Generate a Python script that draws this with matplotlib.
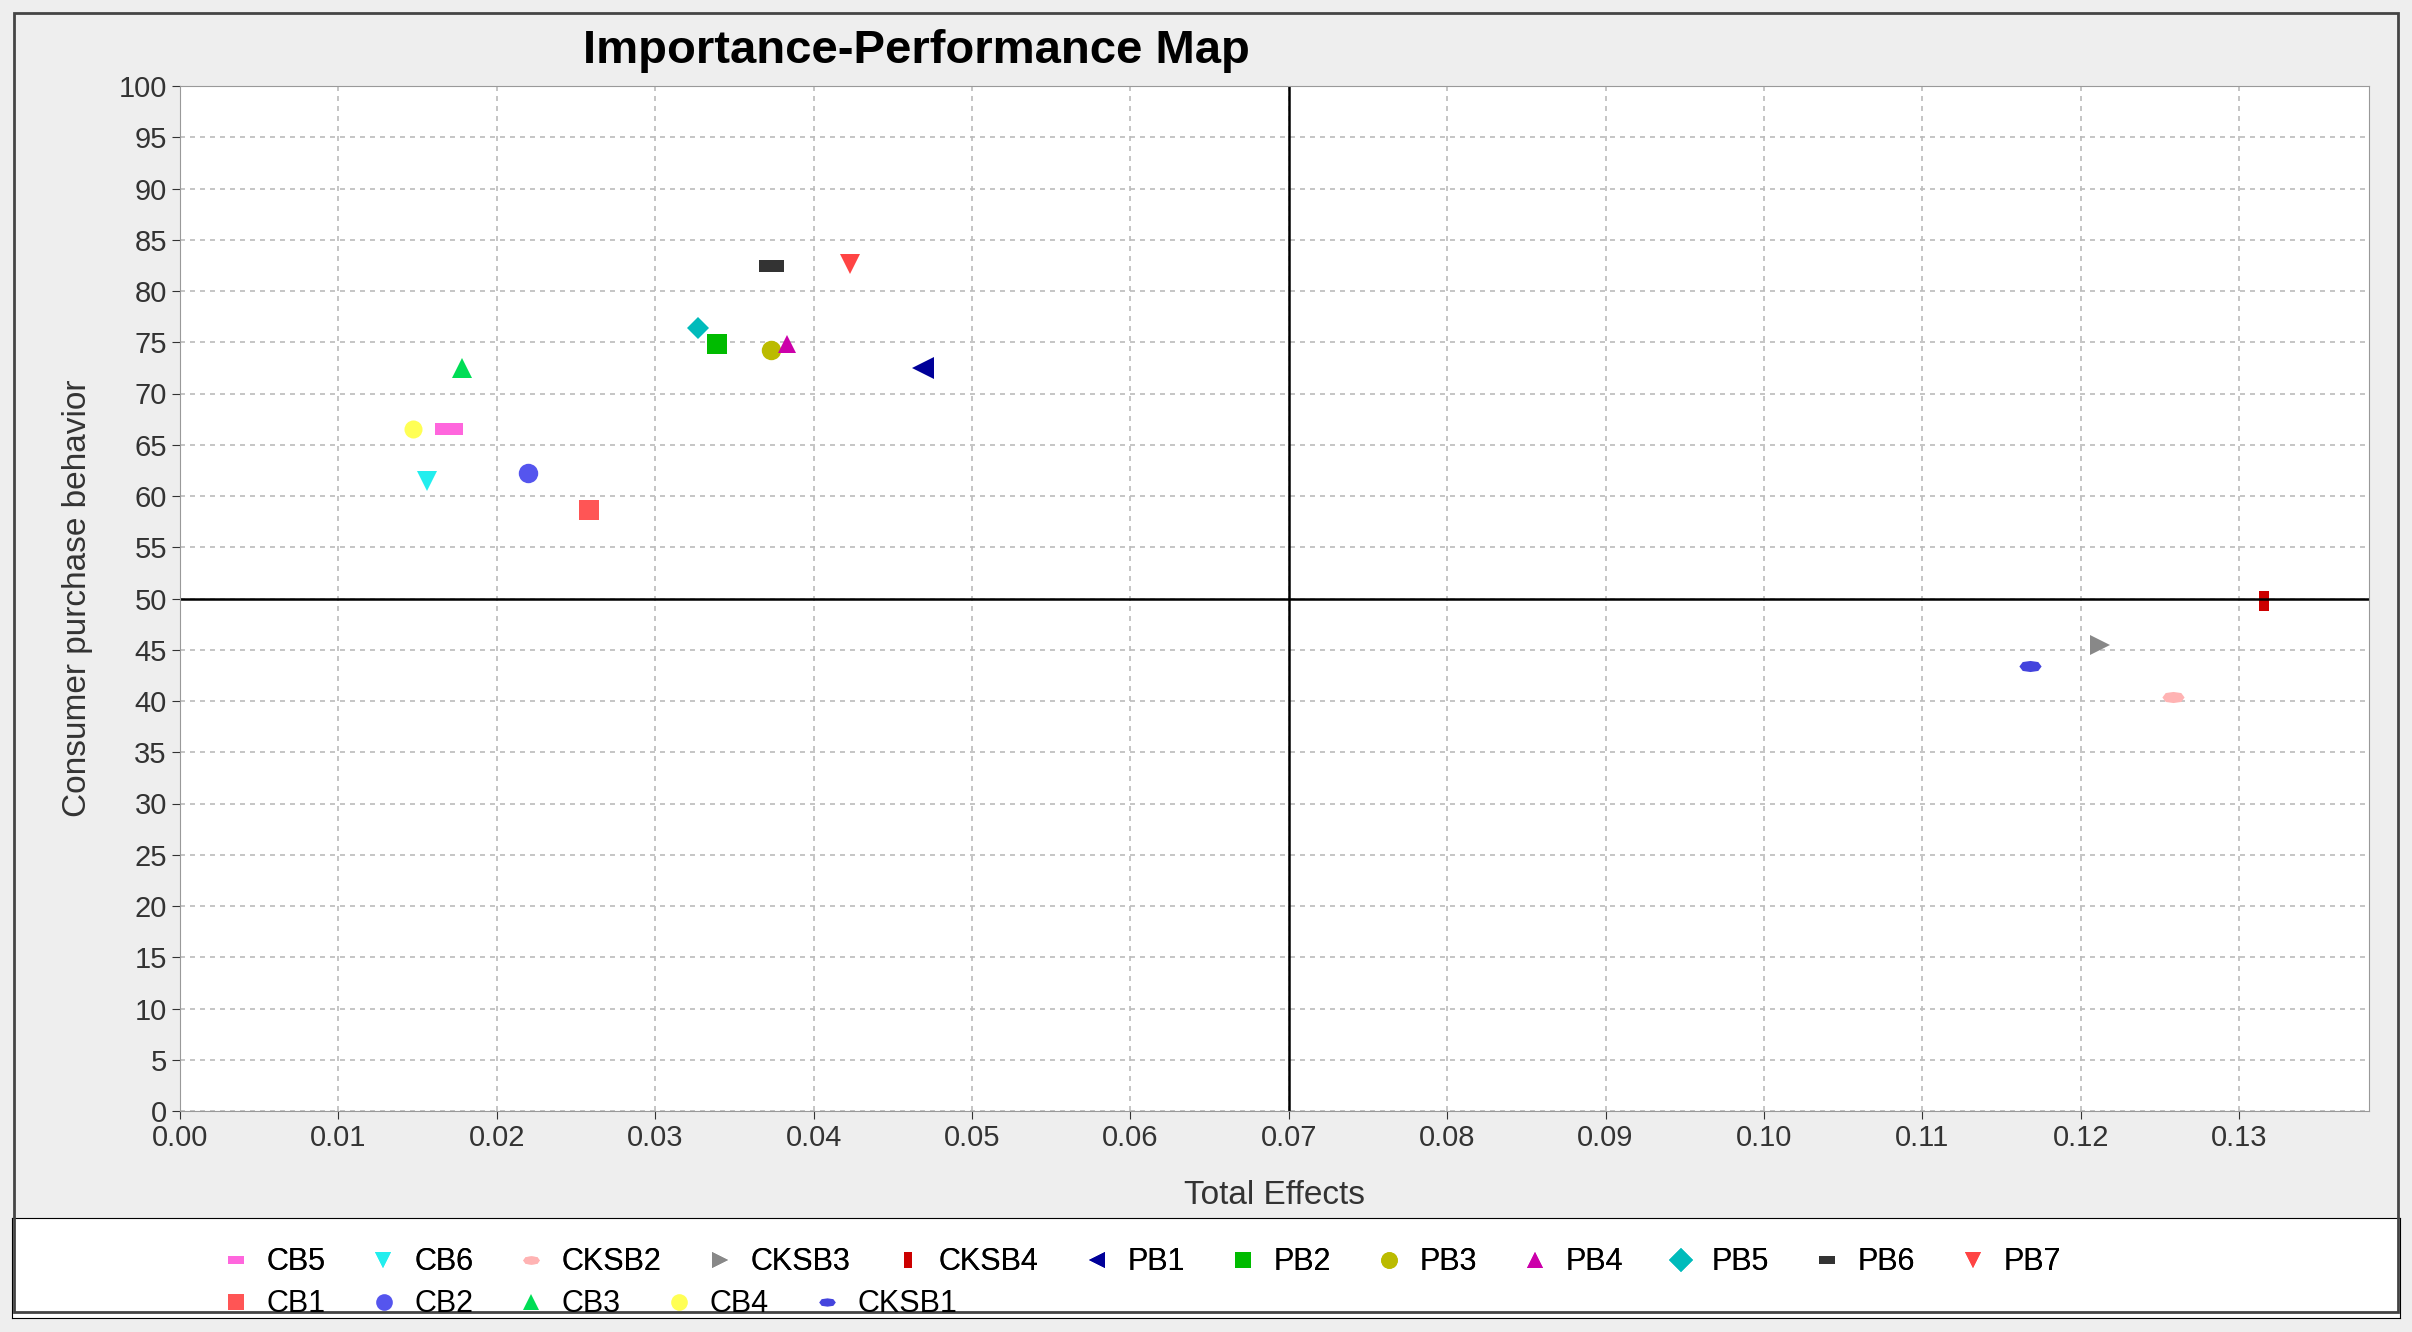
import matplotlib.pyplot as plt
from matplotlib.lines import Line2D

labels = ["CB5", "CB6", "CKSB2", "CKSB3", "CKSB4", "PB1", "PB2", "PB3", "PB4",
          "PB5", "PB6", "PB7", "CB1", "CB2", "CB3", "CB4", "CKSB1"]
total_effects = [0.0170, 0.0156, 0.1258, 0.1212, 0.1316, 0.0469, 0.0339, 0.0373, 0.0383,
                 0.0327, 0.0373, 0.0423, 0.0258, 0.0220, 0.0178, 0.0147, 0.1168]
performance = [66.5, 61.5, 40.4, 45.5, 49.8, 72.5, 74.8, 74.2, 74.8,
               76.4, 82.4, 82.6, 58.6, 62.2, 72.5, 66.5, 43.4]

HRECT = [(-1, -0.45), (1, -0.45), (1, 0.45), (-1, 0.45)]
VRECT = [(-0.5, -1), (0.5, -1), (0.5, 1), (-0.5, 1)]
HOVAL = [(-1, 0), (-0.7, 0.4), (0, 0.5), (0.7, 0.4), (1, 0), (0.7, -0.4), (0, -0.5), (-0.7, -0.4)]

STYLES = {
    "CB5": ("#ff66dd", HRECT, 20),
    "CB6": ("#22eeee", "v", 14),
    "CKSB2": ("#ffb3b3", HOVAL, 16),
    "CKSB3": ("#888888", ">", 14),
    "CKSB4": ("#cc0000", VRECT, 14),
    "PB1": ("#000099", "<", 16),
    "PB2": ("#00bb00", "s", 15),
    "PB3": ("#bbbb00", "o", 14),
    "PB4": ("#cc00aa", "^", 13),
    "PB5": ("#00bbbb", "D", 11),
    "PB6": ("#333333", HRECT, 18),
    "PB7": ("#ff4444", "v", 15),
    "CB1": ("#ff5555", "s", 15),
    "CB2": ("#5555ee", "o", 14),
    "CB3": ("#00dd55", "^", 14),
    "CB4": ("#ffff55", "o", 13),
    "CKSB1": ("#4444dd", HOVAL, 16),
}

plt.rcParams["font.family"] = ["Liberation Sans", "DejaVu Sans"]

fig = plt.figure(figsize=(24.12, 13.32), dpi=100, facecolor="#eeeeee")
ax = fig.add_axes([180 / 2412, 1 - 1111 / 1332, 2189 / 2412, 1025 / 1332])
ax.set_facecolor("white")

for name, x, y in zip(labels, total_effects, performance):
    color, marker, size = STYLES[name]
    ax.plot(x, y, linestyle="none", marker=marker, color=color, markersize=size,
            markeredgewidth=0, label=name)

ax.axvline(0.07, color="black", linewidth=1.8)
ax.axhline(50, color="black", linewidth=1.8)

ax.set_xlim(0, 0.1382)
ax.set_ylim(0, 100)
ax.set_xticks([i / 100 for i in range(14)])
ax.set_xticklabels([f"{i / 100:.2f}" for i in range(14)])
ax.set_yticks(range(0, 101, 5))
ax.grid(True, color="#bbbbbb", linestyle=(0, (3, 3)), linewidth=1.2)
ax.tick_params(labelsize=21, colors="#333333", length=6)
for side in ax.spines.values():
    side.set_color("#999999")
ax.set_xlabel("Total Effects", fontsize=24, color="#333333", labelpad=20)
ax.set_ylabel("Consumer purchase behavior", fontsize=24, color="#333333", labelpad=18)
fig.text(0.38, 0.962, "Importance-Performance Map", fontsize=34, fontweight="bold",
         ha="center", va="center")

# legend strip at the bottom
leg_ax = fig.add_axes([12 / 2412, 1 - 1318 / 1332, 2388 / 2412, 100 / 1332])
leg_ax.set_facecolor("white")
leg_ax.set_xticks([])
leg_ax.set_yticks([])


def make_handle(name):
    color, marker, _ = STYLES[name]
    return Line2D([], [], linestyle="none", marker=marker, color=color,
                  markersize=12, markeredgewidth=0)


row1 = labels[:12]
row2 = labels[12:]
leg1 = fig.legend([make_handle(n) for n in row1], row1, loc="upper left",
                  bbox_to_anchor=(190 / 2412, 1 - 1220 / 1332), ncol=12, frameon=False,
                  fontsize=22, handletextpad=0.4, columnspacing=1.3, handlelength=1.2)
fig.add_artist(leg1)
fig.legend([make_handle(n) for n in row2], row2, loc="upper left",
           bbox_to_anchor=(190 / 2412, 1 - 1262 / 1332), ncol=5, frameon=False,
           fontsize=22, handletextpad=0.4, columnspacing=1.3, handlelength=1.2)

fig.add_artist(plt.Rectangle((0.006, 0.015), 0.988, 0.975, transform=fig.transFigure,
                             fill=False, edgecolor="#444444", linewidth=2))
fig.savefig("out.png", dpi=100, facecolor=fig.get_facecolor())
